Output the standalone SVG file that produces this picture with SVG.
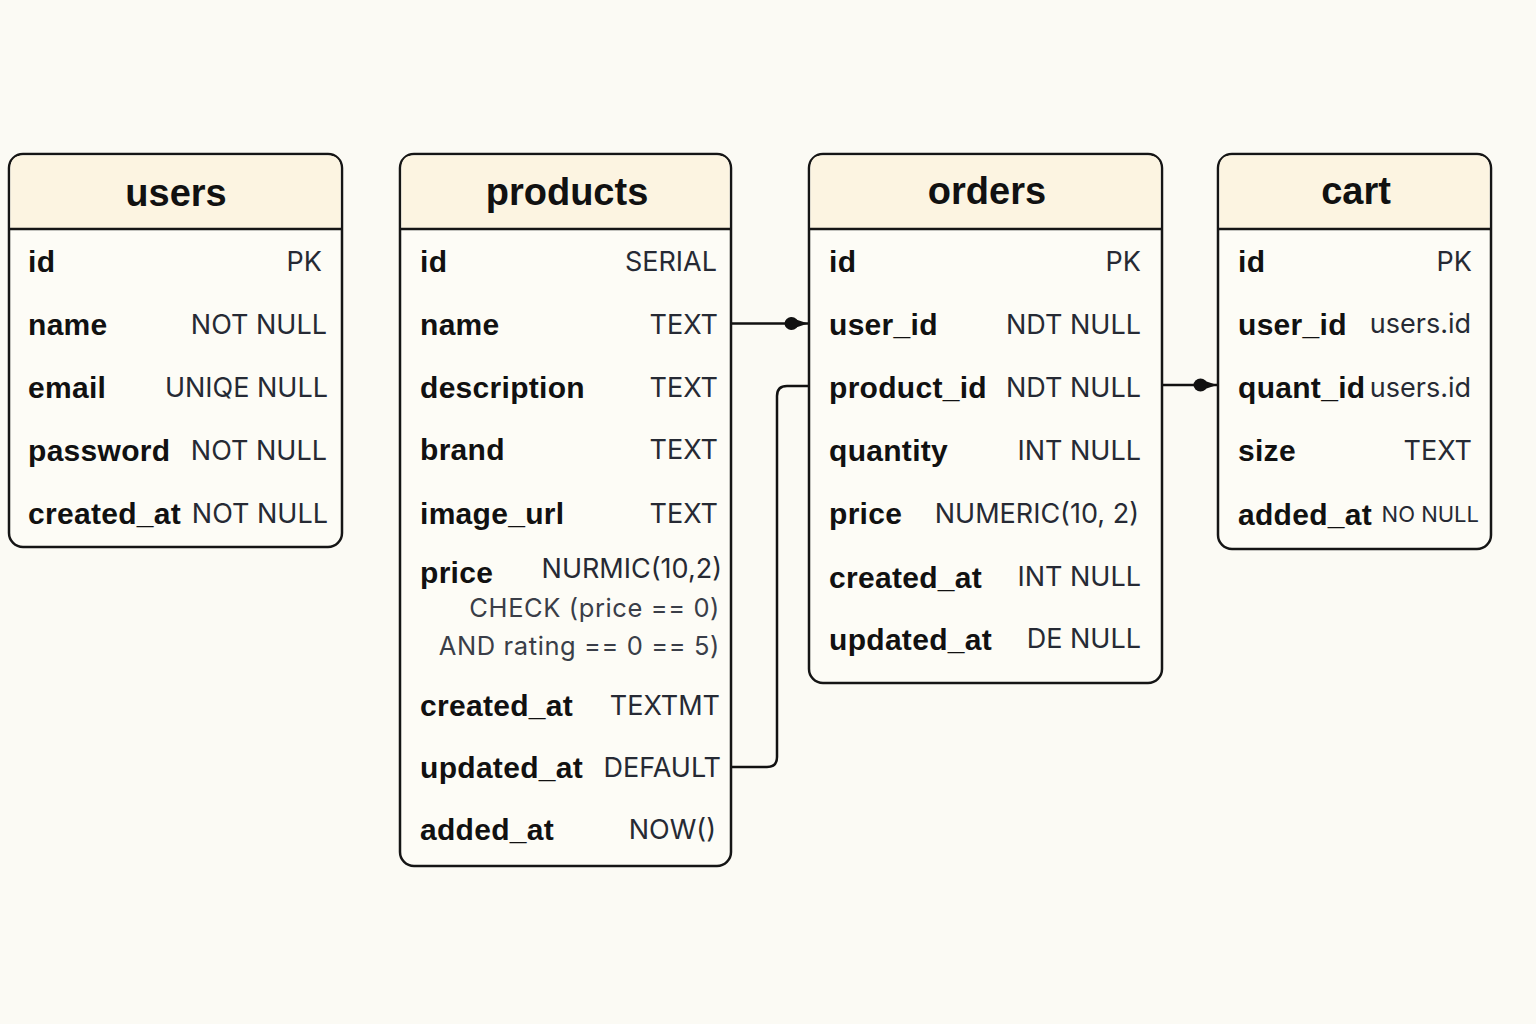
<svg xmlns="http://www.w3.org/2000/svg" width="1536" height="1024" viewBox="0 0 1536 1024">
<style>
.box{fill:#fdfcf6;stroke:#151515;stroke-width:2.5}
.hdr{fill:#fcf4e1}
.sep{stroke:#151515;stroke-width:2.5}
.title{font-family:"Liberation Sans",Arial,sans-serif;font-weight:bold;font-size:38px;fill:#111;text-anchor:middle}
.nm{font-family:"Liberation Sans",Arial,sans-serif;font-weight:bold;font-size:30px;fill:#111;letter-spacing:0.3px}
.val{font-family:Inter,"Liberation Sans",sans-serif;font-size:27px;fill:#262a34;text-anchor:end}
.sm{font-family:Inter,"Liberation Sans",sans-serif;font-size:25.5px;fill:#3a3e48;text-anchor:end;letter-spacing:0.6px}
.xs{font-family:Inter,"Liberation Sans",sans-serif;font-size:22px;fill:#262a34;text-anchor:end}
.conn{fill:none;stroke:#111;stroke-width:2.5}
</style>
<defs>
<marker id="dot" markerUnits="userSpaceOnUse" markerWidth="26" markerHeight="18" viewBox="0 0 26 18" refX="24" refY="9" orient="auto">
<path d="M6,3 L24,9 L6,15 Z" fill="#111"/>
<ellipse cx="7.5" cy="9" rx="7" ry="6.5" fill="#111"/>
</marker>
</defs>
<rect width="1536" height="1024" fill="#fbfaf4"/>

<g id="connectors">
<path class="conn" d="M732,323.5 H808" marker-end="url(#dot)"/>
<path class="conn" d="M732,767 H767 Q777,767 777,757 V396 Q777,386 787,386 H809"/>
<path class="conn" d="M1163,385 H1217" marker-end="url(#dot)"/>
</g>

<g id="users">
<rect class="box" x="9" y="154" width="333" height="393" rx="14"/>
<path class="hdr" d="M23,155.5 H328 Q340.5,155.5 340.5,168 V229 H10.5 V168 Q10.5,155.5 23,155.5 Z"/>
<line class="sep" x1="9" y1="229" x2="342" y2="229"/>
<text class="title" x="176" y="206">users</text>
<text class="nm" x="28" y="272">id</text><text class="val" x="322" y="271">PK</text>
<text class="nm" x="28" y="335">name</text><text class="val" x="327" y="334">NOT NULL</text>
<text class="nm" x="28" y="398">email</text><text class="val" x="328" y="397">UNIQE NULL</text>
<text class="nm" x="28" y="461">password</text><text class="val" x="327" y="460">NOT NULL</text>
<text class="nm" x="28" y="524">created_at</text><text class="val" x="328" y="523">NOT NULL</text>
</g>

<g id="products">
<rect class="box" x="400" y="154" width="331" height="712" rx="14"/>
<path class="hdr" d="M413,155.5 H717 Q729.5,155.5 729.5,168 V229 H401.5 V168 Q401.5,155.5 413,155.5 Z"/>
<line class="sep" x1="400" y1="229" x2="731" y2="229"/>
<text class="title" x="567" y="205">products</text>
<text class="nm" x="420" y="272">id</text><text class="val" x="717" y="271">SERIAL</text>
<text class="nm" x="420" y="335">name</text><text class="val" x="718" y="334">TEXT</text>
<text class="nm" x="420" y="398">description</text><text class="val" x="718" y="397">TEXT</text>
<text class="nm" x="420" y="460">brand</text><text class="val" x="718" y="459">TEXT</text>
<text class="nm" x="420" y="524">image_url</text><text class="val" x="718" y="523">TEXT</text>
<text class="nm" x="420" y="583">price</text><text class="val" x="722" y="578">NURMIC(10,2)</text>
<text class="sm" x="720" y="617">CHECK (price == 0)</text>
<text class="sm" x="720" y="655">AND rating == 0 == 5)</text>
<text class="nm" x="420" y="716">created_at</text><text class="val" x="720" y="715">TEXTMT</text>
<text class="nm" x="420" y="778">updated_at</text><text class="val" x="721" y="777">DEFAULT</text>
<text class="nm" x="420" y="840">added_at</text><text class="val" x="716" y="839">NOW()</text>
</g>

<g id="orders">
<rect class="box" x="809" y="154" width="353" height="529" rx="14"/>
<path class="hdr" d="M822,155.5 H1148 Q1160.5,155.5 1160.5,168 V229 H810.5 V168 Q810.5,155.5 822,155.5 Z"/>
<line class="sep" x1="809" y1="229" x2="1162" y2="229"/>
<text class="title" x="987" y="204">orders</text>
<text class="nm" x="829" y="272">id</text><text class="val" x="1141" y="271">PK</text>
<text class="nm" x="829" y="335">user_id</text><text class="val" x="1141" y="334">NDT NULL</text>
<text class="nm" x="829" y="398">product_id</text><text class="val" x="1141" y="397">NDT NULL</text>
<text class="nm" x="829" y="461">quantity</text><text class="val" x="1141" y="460">INT NULL</text>
<text class="nm" x="829" y="524">price</text><text class="val" x="1139" y="523">NUMERIC(10, 2)</text>
<text class="nm" x="829" y="588">created_at</text><text class="val" x="1141" y="586">INT NULL</text>
<text class="nm" x="829" y="650">updated_at</text><text class="val" x="1141" y="648">DE NULL</text>
</g>

<g id="cart">
<rect class="box" x="1218" y="154" width="273" height="395" rx="14"/>
<path class="hdr" d="M1231,155.5 H1477 Q1489.5,155.5 1489.5,168 V229 H1219.5 V168 Q1219.5,155.5 1231,155.5 Z"/>
<line class="sep" x1="1218" y1="229" x2="1491" y2="229"/>
<text class="title" x="1356" y="204">cart</text>
<text class="nm" x="1238" y="272">id</text><text class="val" x="1472" y="271">PK</text>
<text class="nm" x="1238" y="335">user_id</text><text class="val" x="1471" y="333">users.id</text>
<text class="nm" x="1238" y="398">quant_id</text><text class="val" x="1471" y="397">users.id</text>
<text class="nm" x="1238" y="461">size</text><text class="val" x="1472" y="460">TEXT</text>
<text class="nm" x="1238" y="525">added_at</text><text class="xs" x="1479" y="522">NO NULL</text>
</g>
</svg>
